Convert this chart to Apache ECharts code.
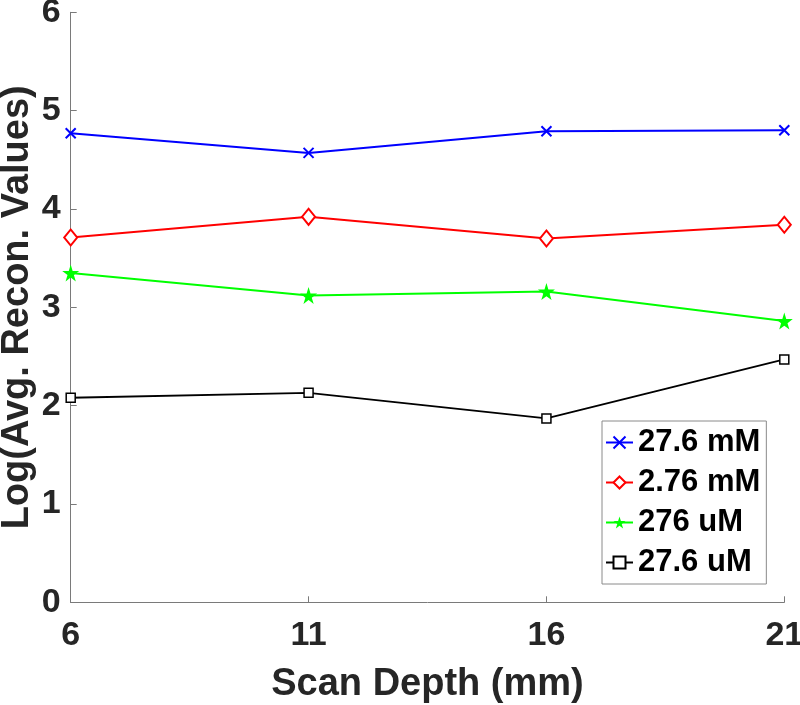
<!DOCTYPE html>
<html>
<head>
<meta charset="utf-8">
<script src="https://cdn.jsdelivr.net/npm/echarts@6/dist/echarts.min.js"></script>
<style>html,body{margin:0;padding:0;background:#fff;}#c{width:800px;height:705px;}</style>
</head>
<body>
<div id="c"></div>
<script>
const depths = ['6', '11', '16', '21'];
const yTicks = [0, 1, 2, 3, 4, 5, 6];
const seriesNames = ['27.6 mM', '2.76 mM', '276 uM', '27.6 uM'];
const s27_6mM = [4.77, 4.57, 4.79, 4.80];
const s2_76mM = [3.71, 3.92, 3.70, 3.84];
const s276uM = [3.35, 3.12, 3.16, 2.86];
const s27_6uM = [2.08, 2.13, 1.87, 2.47];

const FONT = 'Liberation Sans, Arial, Helvetica, sans-serif';
const STAR = 'path://M50,0 L61,35 L98,35 L68,57 L79,91 L50,70 L21,91 L32,57 L2,35 L39,35 Z';
const XMARK = 'path://M0,0 L10,10 M10,0 L0,10';

const chart = echarts.init(document.getElementById('c'), null, {renderer: 'canvas'});
chart.setOption({
  animation: false,
  backgroundColor: '#ffffff',
  grid: {left: 70.7, right: 15.7, top: 12.3, bottom: 102.7, containLabel: false, outerBoundsMode: 'none'},
  xAxis: {
    type: 'category',
    data: depths,
    boundaryGap: false,
    name: 'Scan Depth (mm)',
    nameLocation: 'middle',
    nameMoveOverlap: false,
    nameGap: 63,
    nameTextStyle: {fontFamily: FONT, fontWeight: 'bold', fontSize: 38, color: '#262626'},
    axisLine: {show: true, lineStyle: {color: '#7a7a7a', width: 1}},
    axisTick: {show: true, inside: true, length: 6, alignWithLabel: true, lineStyle: {color: '#7a7a7a'}},
    axisLabel: {fontFamily: FONT, fontWeight: 'bold', fontSize: 34, color: '#262626', margin: 16},
    splitLine: {show: false}
  },
  yAxis: {
    type: 'value',
    min: yTicks[0],
    max: yTicks[yTicks.length - 1],
    interval: 1,
    name: 'Log(Avg. Recon. Values)',
    nameLocation: 'middle',
    nameMoveOverlap: false,
    nameGap: 34,
    nameTextStyle: {fontFamily: FONT, fontWeight: 'bold', fontSize: 38, color: '#262626'},
    axisLine: {show: true, lineStyle: {color: '#7a7a7a', width: 1}},
    axisTick: {show: true, inside: true, length: 6, lineStyle: {color: '#7a7a7a'}},
    axisLabel: {fontFamily: FONT, fontWeight: 'bold', fontSize: 34, color: '#262626', margin: 10},
    splitLine: {show: false}
  },
  legend: {
    orient: 'vertical',
    left: 602,
    top: 421,
    padding: [6, 6, 6, 3],
    itemGap: 9,
    itemWidth: 27,
    itemHeight: 15,
    borderColor: '#8a8a8a',
    borderWidth: 1,
    backgroundColor: '#ffffff',
    textStyle: {fontFamily: FONT, fontWeight: 'bold', fontSize: 31, color: '#000000'},
    data: seriesNames
  },
  series: [
    {
      name: seriesNames[0], type: 'line', data: s27_6mM,
      symbol: XMARK, symbolSize: 10,
      lineStyle: {color: '#0000ff', width: 2},
      itemStyle: {color: '#0000ff', borderColor: '#0000ff', borderWidth: 2},
      emphasis: {disabled: true}
    },
    {
      name: seriesNames[1], type: 'line', data: s2_76mM,
      symbol: 'diamond', symbolSize: [13, 16],
      lineStyle: {color: '#ff0000', width: 2},
      itemStyle: {color: '#ffffff', borderColor: '#ff0000', borderWidth: 2},
      emphasis: {disabled: true}
    },
    {
      name: seriesNames[2], type: 'line', data: s276uM,
      symbol: STAR, symbolSize: 17,
      lineStyle: {color: '#00ff00', width: 2},
      itemStyle: {color: '#00ff00', borderColor: '#00ff00', borderWidth: 0},
      emphasis: {disabled: true}
    },
    {
      name: seriesNames[3], type: 'line', data: s27_6uM,
      symbol: 'rect', symbolSize: 9,
      lineStyle: {color: '#000000', width: 1.8},
      itemStyle: {color: '#ffffff', borderColor: '#000000', borderWidth: 1.5},
      emphasis: {disabled: true}
    }
  ]
});
</script>
</body>
</html>
